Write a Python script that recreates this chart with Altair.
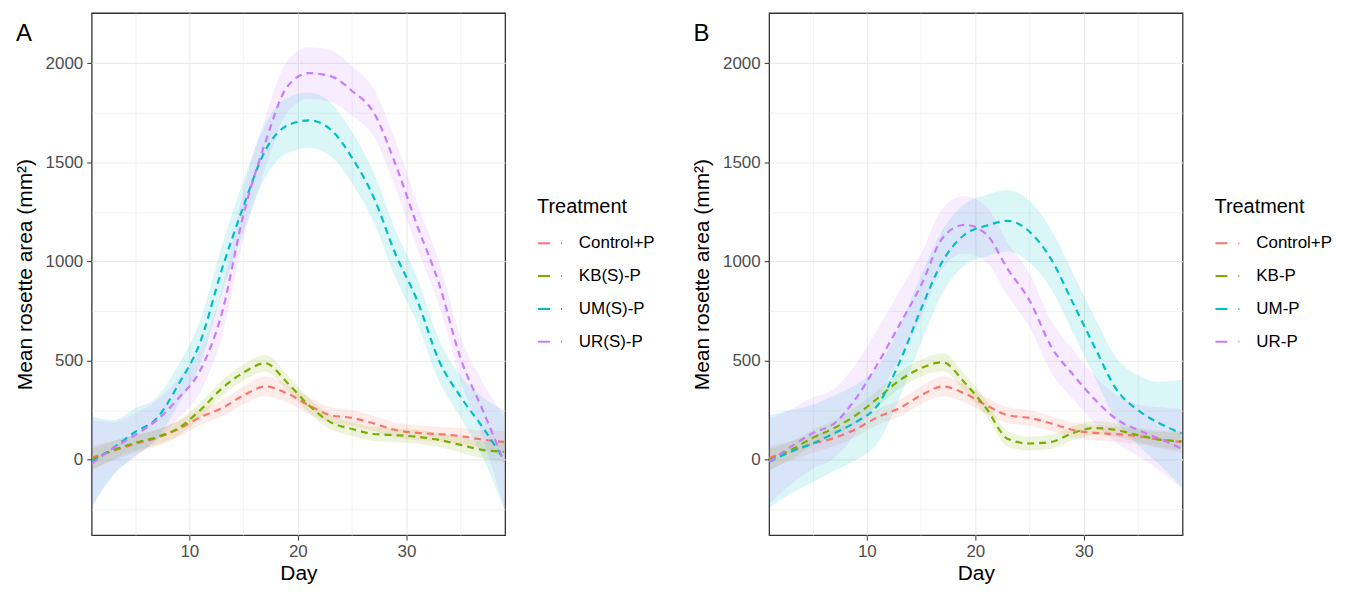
import altair as alt
import pandas as pd

# ---------------- data ----------------
days = [1, 3, 5, 7, 9, 11, 13, 15, 17, 19, 21, 23, 25, 27, 29, 31, 33, 35, 37, 39]

treat_A = ["Control+P", "KB(S)-P", "UM(S)-P", "UR(S)-P"]
treat_B = ["Control+P", "KB-P", "UM-P", "UR-P"]
colors = ["#F8766D", "#7CAE00", "#00BFC4", "#C77CFF"]

# Panel A
A_control = [10, 45, 80, 110, 155, 215, 260, 325, 370, 335, 275, 225, 211, 183, 150, 136, 129, 119, 102, 90]
A_control_se = [60, 50, 45, 42, 40, 40, 42, 45, 50, 45, 42, 40, 40, 38, 38, 38, 38, 40, 45, 55]
A_kb = [0, 49, 85, 115, 160, 250, 360, 440, 487, 390, 275, 190, 155, 130, 124, 116, 100, 75, 50, 40]
A_kb_se = [55, 45, 40, 38, 38, 38, 40, 40, 42, 40, 38, 36, 35, 35, 35, 35, 35, 38, 42, 50]
A_um = [-10, 60, 140, 209, 380, 593, 960, 1280, 1560, 1685, 1712, 1667, 1523, 1322, 1037, 803, 501, 317, 166, 0]
A_um_se = [230, 140, 120, 105, 100, 110, 120, 130, 135, 140, 140, 135, 130, 125, 120, 115, 105, 105, 150, 250]
A_ur = [-20, 59, 124, 200, 310, 451, 740, 1240, 1600, 1880, 1950, 1935, 1860, 1750, 1490, 1180, 890, 510, 255, -10]
A_ur_se = [220, 130, 110, 100, 100, 110, 120, 125, 130, 130, 130, 130, 125, 120, 120, 115, 110, 110, 140, 230]

# Panel B
B_control = [10, 45, 80, 110, 155, 215, 260, 325, 370, 335, 275, 225, 211, 183, 150, 136, 129, 119, 102, 90]
B_control_se = [60, 50, 45, 42, 40, 40, 42, 45, 50, 45, 42, 40, 40, 38, 38, 38, 38, 40, 45, 55]
B_kb = [0, 49, 110, 160, 225, 310, 400, 462, 492, 390, 260, 105, 82, 90, 135, 160, 150, 124, 102, 94]
B_kb_se = [55, 45, 40, 40, 40, 40, 42, 42, 45, 42, 40, 38, 35, 35, 35, 35, 35, 35, 38, 45]
B_um = [-10, 40, 82, 134, 190, 275, 490, 760, 1003, 1135, 1180, 1205, 1150, 1010, 790, 568, 355, 250, 183, 133]
B_um_se = [235, 210, 195, 190, 190, 190, 180, 170, 160, 155, 155, 155, 155, 150, 150, 150, 160, 175, 210, 270]
B_ur = [-10, 65, 134, 183, 310, 484, 680, 880, 1120, 1185, 1138, 960, 803, 570, 430, 305, 205, 150, 105, 57]
B_ur_se = [215, 190, 180, 175, 175, 175, 170, 160, 150, 145, 140, 135, 135, 130, 125, 120, 120, 130, 160, 200]

y_title = "Mean rosette area (mm²)"
x_title = "Day"
legend_title = "Treatment"

FONT = "Liberation Sans"
W, H = 415, 524


def panel(label, names, means, ses):
    rows = []
    for name, m, s in zip(names, means, ses):
        for d, mv, sv in zip(days, m, s):
            rows.append({"Day": d, "Treatment": name, "mean": mv,
                         "lo": mv - sv, "hi": mv + sv})
    df = pd.DataFrame(rows)

    xs = alt.Scale(domain=[1, 39.1], nice=False, zero=False)
    ys = alt.Scale(domain=[-380, 2253], nice=False, zero=False)
    cdom = alt.Scale(domain=names, range=colors)

    x_axis = alt.Axis(
        title=x_title, values=[5, 10, 15, 20, 25, 30, 35], format="d",
        labelExpr="datum.value % 10 === 0 ? datum.label : ''",
        gridWidth={"condition": {"test": "datum.value % 10 === 0", "value": 1.2}, "value": 0.6},
        tickOpacity={"condition": {"test": "datum.value % 10 === 0", "value": 1}, "value": 0},
    )
    y_axis = alt.Axis(
        title=y_title, values=[-250, 0, 250, 500, 750, 1000, 1250, 1500, 1750, 2000], format="d",
        labelExpr="datum.value % 500 === 0 ? datum.label : ''",
        gridWidth={"condition": {"test": "datum.value % 500 === 0", "value": 1.2}, "value": 0.6},
        tickOpacity={"condition": {"test": "datum.value % 500 === 0", "value": 1}, "value": 0},
    )
    legend = alt.Legend(
        title=legend_title, orient="none", legendX=447, legendY=185,
        symbolType="stroke", symbolDash=[12, 11], symbolStrokeWidth=2,
        symbolSize=576, symbolOpacity=1,
        titleFontSize=20, titleFontWeight="normal",
        titleColor="black", labelFontSize=17, labelColor="black",
        rowPadding=12, titlePadding=13, labelOffset=16,
        titleFont=FONT, labelFont=FONT,
    )

    base = alt.Chart(df)
    band = base.mark_area(interpolate="monotone", opacity=0.14, clip=True).encode(
        x=alt.X("Day:Q", scale=xs, axis=x_axis),
        y=alt.Y("lo:Q", scale=ys, axis=y_axis),
        y2="hi:Q",
        color=alt.Color("Treatment:N", scale=cdom, legend=legend),
    )
    line = base.mark_line(interpolate="monotone", strokeDash=[7, 5], strokeWidth=2.2, clip=True).encode(
        x=alt.X("Day:Q", scale=xs),
        y=alt.Y("mean:Q", scale=ys),
        color=alt.Color("Treatment:N", scale=cdom, legend=legend),
    )
    tag = alt.Chart(pd.DataFrame({"t": [label]})).mark_text(
        align="left", baseline="middle", fontSize=24, font=FONT, color="black"
    ).encode(text="t:N", x=alt.value(-76), y=alt.value(21))

    return alt.layer(band, line, tag).properties(width=W, height=H)


chart_A = panel("A", treat_A, [A_control, A_kb, A_um, A_ur], [A_control_se, A_kb_se, A_um_se, A_ur_se])
chart_B = panel("B", treat_B, [B_control, B_kb, B_um, B_ur], [B_control_se, B_kb_se, B_um_se, B_ur_se])

chart = alt.hconcat(chart_A, chart_B, spacing=34).resolve_scale(
    color="independent", x="independent", y="independent"
).properties(
    padding={"left": 5, "top": 3, "right": 5, "bottom": 0}
).configure(
    font=FONT
).configure_view(
    stroke="#333333", strokeWidth=1.3
).configure_axis(
    domain=False, gridColor="#EBEBEB", tickColor="#333333", tickSize=5, tickWidth=1,
    labelFont=FONT, labelFontSize=17, labelColor="#4D4D4D", labelPadding=3,
    titleFont=FONT, titleFontSize=21, titleFontWeight="normal", titleColor="black",
).configure_axisY(
    titlePadding=10, labelPadding=4
).configure_axisX(
    titlePadding=4
)

chart.save("out.html", embed_options={"renderer": "svg", "actions": False})
